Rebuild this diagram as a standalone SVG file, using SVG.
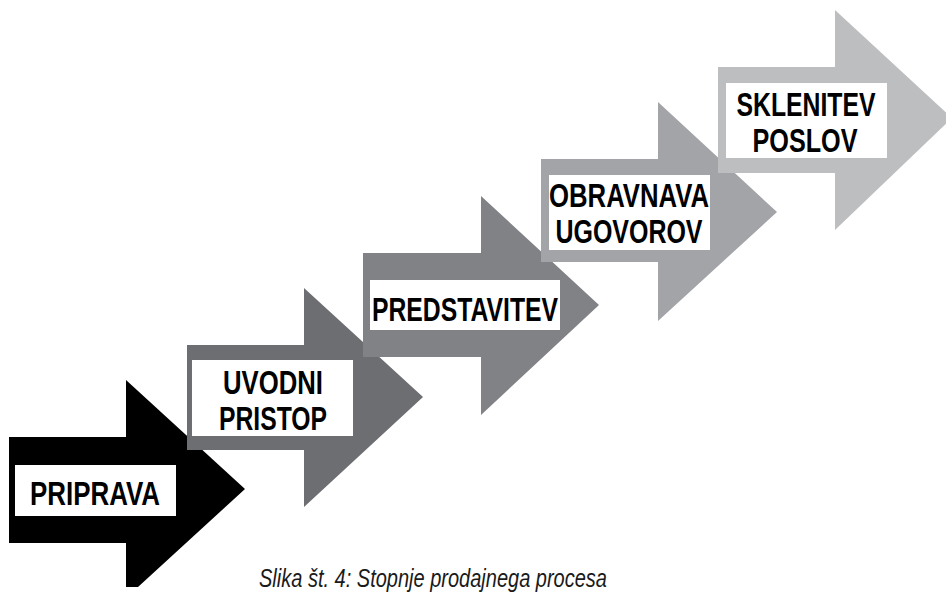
<svg xmlns="http://www.w3.org/2000/svg" width="946" height="597" viewBox="0 0 946 597">
<style>
.box{fill:#ffffff}
.lbl{font-family:"Liberation Sans",Arial,sans-serif;font-weight:bold;font-size:34px;fill:#000;text-anchor:middle}
.cap{font-family:"Liberation Sans",Arial,sans-serif;font-style:italic;font-size:26px;fill:#1a1a1a}
</style>
<rect width="946" height="597" fill="#ffffff"/>
<g id="step1">
<polygon points="9,437 126,437 126,380 245,489 138,587 126,587 126,543 9,543" fill="#000000"/>
<rect class="box" x="15" y="465" width="161" height="51"/>
<text class="lbl" x="95" y="505" textLength="130" lengthAdjust="spacingAndGlyphs">PRIPRAVA</text>
</g>
<g id="step2">
<polygon points="187,345 304,345 304,288 423,397 304,507 304,450 187,450" fill="#6d6e71"/>
<rect class="box" x="192" y="360" width="161" height="76"/>
<text class="lbl" x="273" y="394" textLength="100" lengthAdjust="spacingAndGlyphs">UVODNI</text>
<text class="lbl" x="273" y="430" textLength="108" lengthAdjust="spacingAndGlyphs">PRISTOP</text>
</g>
<g id="step3">
<polygon points="363,253 481,253 481,196 599,305 481,415 481,357 363,357" fill="#808285"/>
<rect class="box" x="370" y="280" width="190" height="50"/>
<text class="lbl" x="465" y="321" textLength="186" lengthAdjust="spacingAndGlyphs">PREDSTAVITEV</text>
</g>
<g id="step4">
<polygon points="541,159 658,159 658,102 777,212 658,321 658,262 541,262" fill="#a2a4a7"/>
<rect class="box" x="549" y="175" width="161" height="75"/>
<text class="lbl" x="629" y="207" textLength="160" lengthAdjust="spacingAndGlyphs">OBRAVNAVA</text>
<text class="lbl" x="629" y="243" textLength="147" lengthAdjust="spacingAndGlyphs">UGOVOROV</text>
</g>
<g id="step5">
<polygon points="718,67 835,67 835,10 952,118 835,230 835,173 718,173" fill="#bcbec0"/>
<rect class="box" x="726" y="83" width="161" height="75"/>
<text class="lbl" x="806" y="116" textLength="139" lengthAdjust="spacingAndGlyphs">SKLENITEV</text>
<text class="lbl" x="805" y="152" textLength="105" lengthAdjust="spacingAndGlyphs">POSLOV</text>
</g>
<g id="connectors"></g>
<text class="cap" x="259" y="587" textLength="348" lengthAdjust="spacingAndGlyphs">Slika št. 4: Stopnje prodajnega procesa</text>
</svg>
